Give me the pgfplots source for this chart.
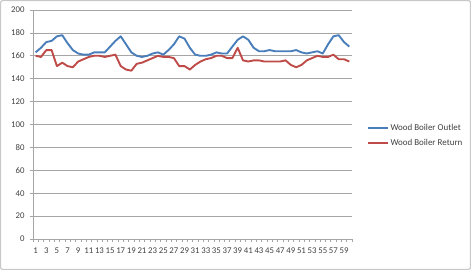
\documentclass[border=0pt]{standalone}
\usepackage{pgfplots}
\pgfplotsset{compat=1.18}
\usepackage{fontspec}
\setmainfont{Carlito}
\definecolor{outblue}{RGB}{74,126,187}
\definecolor{retred}{RGB}{190,75,72}
\definecolor{gridgray}{RGB}{165,165,165}
\definecolor{framegray}{RGB}{200,200,200}
\definecolor{txt}{RGB}{64,64,64}
\begin{document}
\begin{tikzpicture}
\useasboundingbox (0,0) rectangle (471bp,270bp);
\draw[framegray, line width=1.2pt, rounded corners=2pt] (0.6pt,0.6pt) rectangle (471bp-0.6pt,270bp-0.6pt);
\begin{axis}[
  at={(33bp,31bp)}, anchor=south west,
  scale only axis, width=319bp, height=229bp,
  xmin=0.5, xmax=60.5, ymin=0, ymax=200,
  axis x line*=bottom, axis y line*=left,
  axis line style={gridgray, line width=0.6pt},
  ytick={0,20,...,200},
  ymajorgrids, major grid style={gridgray, line width=0.6pt},
  xtick={1,3,...,59},
  minor xtick={0.5,1.5,...,60.5},
  major x tick style={draw=none},
  minor x tick style={gridgray, line width=0.5pt},
  minor tick length=3bp,
  major y tick style={gridgray, line width=0.6pt},
  major tick length=3bp,
  tick align=outside,
  ticklabel style={font=\fontsize{8.8}{10}\selectfont, text=txt},
  /pgf/number format/assume math mode=true,
  xticklabel style={inner sep=1pt, yshift=-5bp},
  yticklabel style={xshift=-2bp},
  clip=false,
  legend style={at={(1.045,0.452)}, anchor=west, draw=none, fill=none,
    font=\fontsize{9}{10}\selectfont, text=txt, row sep=3pt, inner sep=0pt},
  legend cell align=left,
  legend image code/.code={\draw[#1, line width=2pt] (0bp,0bp) -- (20bp,0bp);},
]
\addplot[outblue, line width=1.9pt, line join=round] coordinates {
(1,163) (2,167) (3,172) (4,173) (5,177) (6,178) (7,171) (8,165) (9,162) (10,161)
(11,161) (12,163) (13,163) (14,163) (15,168) (16,173) (17,177) (18,170) (19,163) (20,160)
(21,159) (22,160) (23,162) (24,163) (25,161) (26,165) (27,170) (28,177) (29,175) (30,167)
(31,161) (32,160) (33,160) (34,161) (35,163) (36,162) (37,162) (38,168) (39,174) (40,177)
(41,174) (42,167) (43,164) (44,164) (45,165) (46,164) (47,164) (48,164) (49,164) (50,165)
(51,163) (52,162) (53,163) (54,164) (55,162) (56,170) (57,177) (58,178) (59,172) (60,168)
};
\addlegendentry{Wood Boiler Outlet}
\addplot[retred, line width=1.9pt, line join=round] coordinates {
(1,160) (2,159) (3,165) (4,165) (5,151) (6,154) (7,151) (8,150) (9,155) (10,157)
(11,159) (12,160) (13,160) (14,159) (15,160) (16,161) (17,151) (18,148) (19,147) (20,153)
(21,154) (22,156) (23,158) (24,160) (25,159) (26,159) (27,158) (28,151) (29,151) (30,148)
(31,152) (32,155) (33,157) (34,158) (35,160) (36,160) (37,158) (38,158) (39,167) (40,156)
(41,155) (42,156) (43,156) (44,155) (45,155) (46,155) (47,155) (48,156) (49,152) (50,150)
(51,152) (52,156) (53,158) (54,160) (55,159) (56,159) (57,161) (58,157) (59,157) (60,155)
};
\addlegendentry{Wood Boiler Return}
\end{axis}
\end{tikzpicture}
\end{document}
